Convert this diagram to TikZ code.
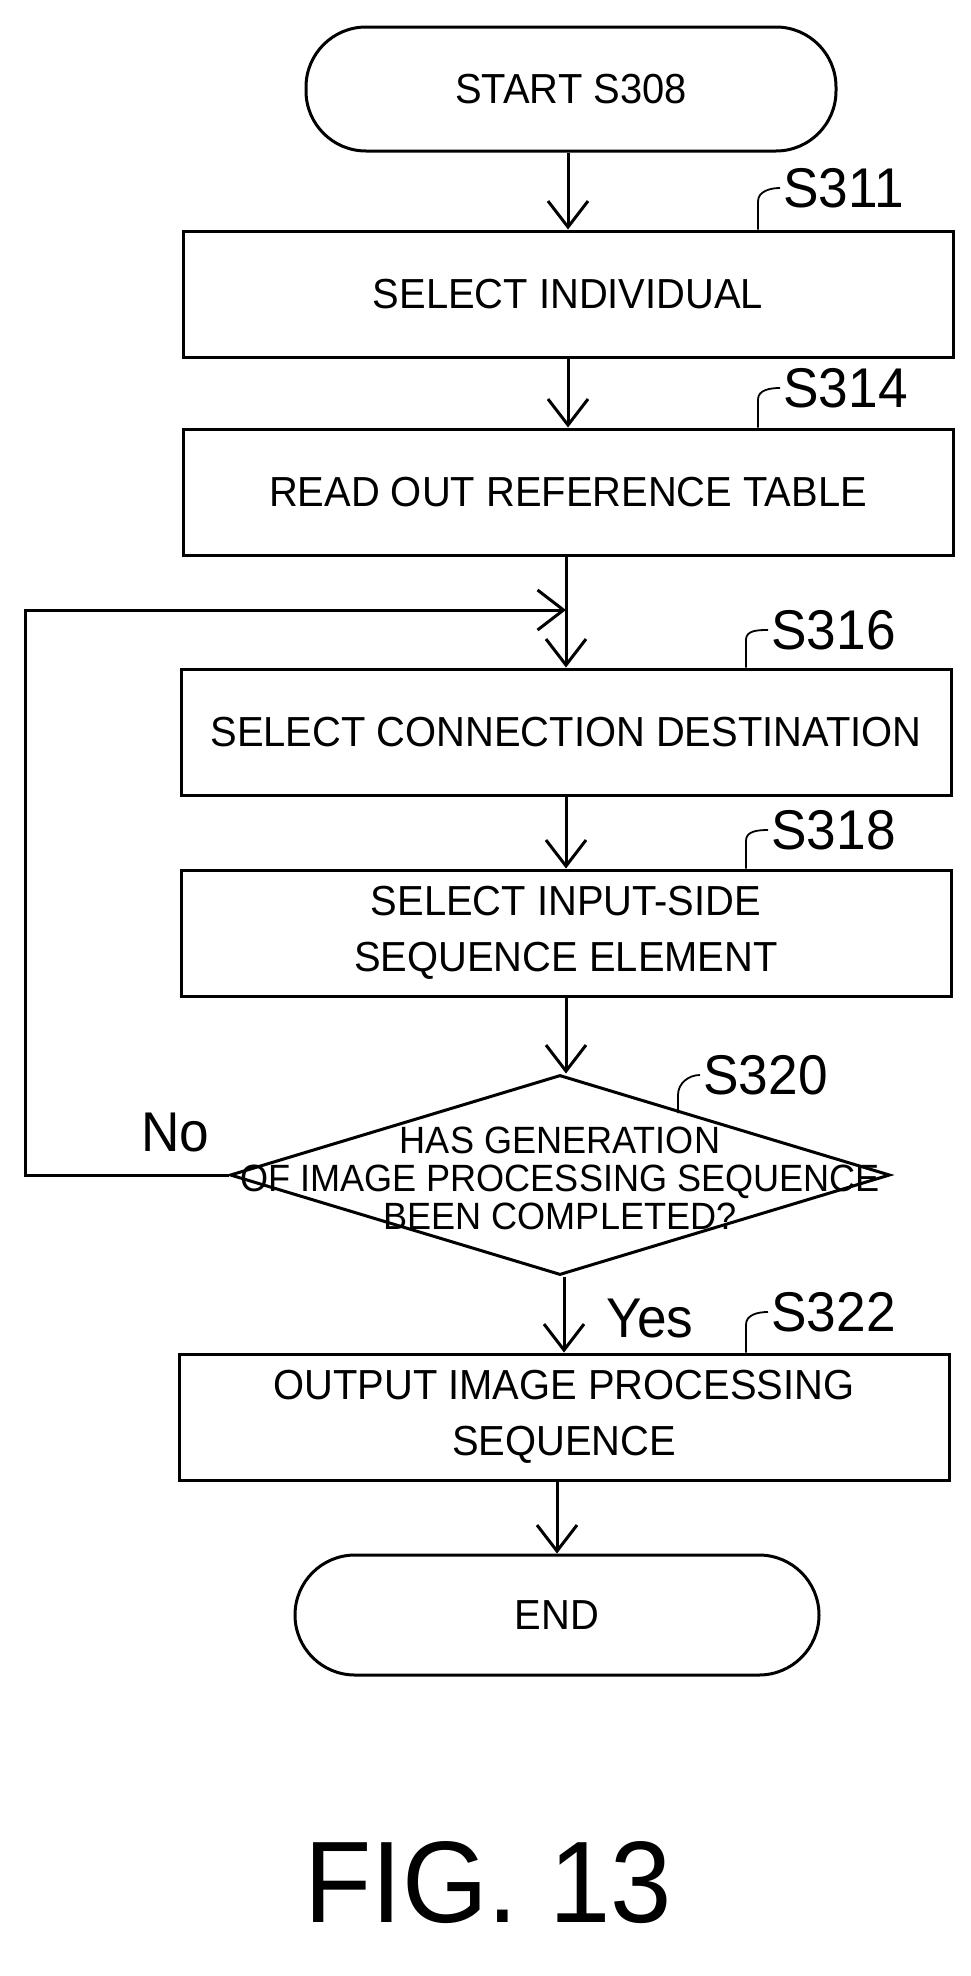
\documentclass[tikz,border=0pt]{standalone}
\usepackage{fontspec}
\setmainfont{Liberation Sans}
\newfontfamily\nf[FakeStretch=0.95]{Liberation Sans}
\usetikzlibrary{arrows.meta,shapes.geometric}
\begin{document}
\begin{tikzpicture}[x=0.5pt,y=-0.5pt,
  line width=1.5pt,
  txt/.style={font=\nf\fontsize{21}{28}\selectfont, align=center},
  box/.style={draw, txt, minimum width=385pt, minimum height=63pt, inner sep=0pt},
  term/.style={draw, txt, rounded corners=30pt, minimum height=62pt, inner sep=0pt},
  lab/.style={font=\nf\fontsize{28}{28}\selectfont, inner sep=1pt},
  arr/.style={-{Straight Barb[length=13pt,width=20pt,line width=1.5pt]}},
  hook/.style={line width=0.9pt}]
\useasboundingbox (0,0) rectangle (970,1976);
\node[term, minimum width=265pt] (st) at (571,89) {START S308};
\node[box] (b1) at (568,294) {SELECT INDIVIDUAL};
\node[box] (b2) at (568,492) {READ OUT REFERENCE TABLE};
\node[box] (b3) at (566,732) {SELECT CONNECTION DESTINATION};
\node[box] (b4) at (566,933) {SELECT INPUT-SIDE\\SEQUENCE ELEMENT};
\node[draw, diamond, minimum width=330pt, minimum height=100pt, inner sep=0pt, aspect=3.3] (d) at (560,1175) {};
\node[font=\nf\fontsize{19}{19}\selectfont, align=center] (dt) at (560,1178) {HAS GENERATION\\OF IMAGE PROCESSING SEQUENCE\\BEEN COMPLETED?};
\node[box] (b5) at (564,1417) {OUTPUT IMAGE PROCESSING\\SEQUENCE};
\node[term, minimum width=262pt, minimum height=60pt] (en) at (557,1615) {END};
\node[font=\nf\fontsize{58}{58}\selectfont] (fig) at (488,1883) {FIG. 13};

\node[lab, anchor=west] (l1) at (780,188) {S311};
\node[lab, anchor=west] (l2) at (780,388) {S314};
\node[lab, anchor=west] (l3) at (768,630) {S316};
\node[lab, anchor=west] (l4) at (768,830) {S318};
\node[lab, anchor=west] (l5) at (700,1075) {S320};
\node[lab, anchor=west] (l6) at (768,1312) {S322};
\node[lab, anchor=west] (no) at (138,1132) {No};
\node[lab, anchor=west] (yes) at (603,1318) {Yes};

\draw[hook] (b1.north -| l1.west) ++(-22,0) -- ++(0,-28) to[out=90,in=180] (l1.west);
\draw[hook] (b2.north -| l2.west) ++(-22,0) -- ++(0,-28) to[out=90,in=180] (l2.west);
\draw[hook] (b3.north -| l3.west) ++(-22,0) -- ++(0,-28) to[out=90,in=180] (l3.west);
\draw[hook] (b4.north -| l4.west) ++(-22,0) -- ++(0,-28) to[out=90,in=180] (l4.west);
\draw[hook] (l5.west) ++(-22,38) -- ++(0,-18) to[out=90,in=180] (l5.west);
\draw[hook] (b5.north -| l6.west) ++(-22,0) -- ++(0,-28) to[out=90,in=180] (l6.west);

\draw[arr] (st.south -| b1.north) -- (b1.north);
\draw[arr] (b1.south) -- (b2.north);
\coordinate (j) at (b3.north |- 0,610);
\draw[arr] (b2.south -| j) -- (b3.north);
\draw[arr] (b3.south) -- (b4.north);
\draw[arr] (b4.south) -- (d.north -| b4.south);
\draw[arr] (d.south -| b5.north) -- (b5.north);
\draw[arr] (b5.south -| en.north) -- (en.north);
\draw[arr] (d.west) -- (25,1175) -- (25,610) -- (j);
\end{tikzpicture}
\end{document}
